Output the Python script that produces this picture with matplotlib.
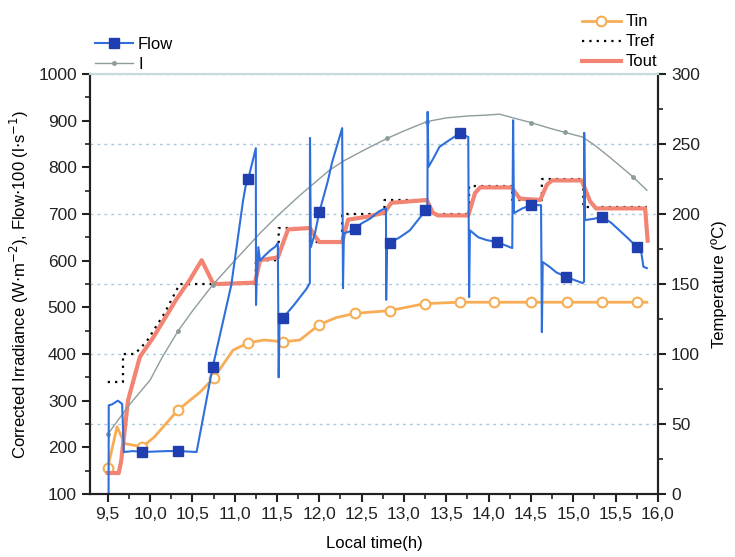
import numpy as np
import matplotlib
matplotlib.use('Agg')
import matplotlib.pyplot as plt
from matplotlib.ticker import MultipleLocator, FuncFormatter

plt.rcParams['font.family'] = ['Liberation Sans', 'DejaVu Sans']

# irradiance (W/m2)
irr_t = [9.5, 9.75, 10.0, 10.15, 10.33, 10.5, 10.74, 11.0, 11.3, 11.5, 11.77,
         12.12, 12.3, 12.56, 12.8, 13.0, 13.27, 13.5, 13.75, 13.98, 14.13, 14.29,
         14.5, 14.72, 14.9, 15.11, 15.25, 15.43, 15.6, 15.71, 15.87]
irr_v = [228, 290, 344, 395, 449, 492, 548, 600, 659, 695, 740,
         794, 815, 840, 862, 878, 898, 906, 910, 912, 914, 906,
         896, 884, 875, 865, 848, 822, 796, 779, 751]

# flow x100 (l/s)
flow_t = [9.51, 9.512, 9.55, 9.62, 9.67, 9.69, 9.8, 9.91, 10.2, 10.33, 10.55,
          10.74, 10.96, 11.10, 11.13, 11.16, 11.25, 11.252, 11.26, 11.27, 11.28,
          11.3, 11.35, 11.42, 11.48, 11.51, 11.52, 11.53, 11.57, 11.7, 11.85,
          11.888, 11.89, 11.9, 11.95, 12.0, 12.1, 12.15, 12.27, 12.28, 12.29,
          12.35, 12.42, 12.5, 12.6, 12.7, 12.74, 12.788, 12.79, 12.8, 12.83,
          12.95, 13.07, 13.2, 13.25, 13.278, 13.28, 13.29, 13.35, 13.42, 13.55,
          13.66, 13.76, 13.77, 13.78, 13.88, 13.98, 14.10, 14.28, 14.29, 14.3,
          14.4, 14.5, 14.62, 14.63, 14.64, 14.72, 14.8, 14.92, 15.11, 15.128,
          15.13, 15.14, 15.25, 15.34, 15.45, 15.63, 15.75, 15.8, 15.83, 15.87]
flow_v = [100, 290, 292, 300, 293, 190, 192, 190, 192, 192, 190,
          372, 548, 730, 760, 775, 841, 505, 560, 586, 629,
          600, 610, 622, 630, 638, 350, 470, 477, 505, 540,
          552, 863, 629, 660, 704, 770, 810, 884, 541, 659,
          662, 668, 680, 690, 705, 709, 712, 516, 630, 638,
          650, 665, 695, 709, 712, 919, 801, 820, 844, 860,
          873, 865, 522, 665, 650, 644, 640, 627, 901, 702,
          712, 719, 719, 447, 597, 587, 575, 565, 552, 555,
          874, 687, 690, 694, 681, 651, 630, 623, 587, 584]

# temperatures (C)
tin_t = [9.5, 9.61, 9.70, 9.91, 10.05, 10.33, 10.59, 10.75, 10.98, 11.16, 11.35,
         11.57, 11.77, 12.0, 12.2, 12.42, 12.83, 13.25, 13.66, 14.07, 14.5,
         14.93, 15.34, 15.75, 15.87]
tin_v = [18.7, 48, 36, 33.7, 40.7, 60, 72.7, 82.7, 102.7, 108, 110,
         108.7, 110, 121, 126, 129, 131, 136, 137, 137, 137,
         137, 137, 137, 137]

tref_t = [9.5, 9.68, 9.68, 9.82, 9.96, 10.17, 10.35, 11.25, 11.25, 11.52, 11.52,
          11.89, 11.89, 12.27, 12.27, 12.77, 12.77, 13.28, 13.28, 13.77, 13.77,
          14.28, 14.28, 14.63, 14.63, 15.12, 15.12, 15.87]
tref_v = [80, 80, 100, 100, 109, 129, 150, 150, 167, 167, 190,
          190, 180, 180, 200, 200, 210, 210, 200, 200, 220,
          220, 210, 210, 225, 225, 205, 205]

tout_t = [9.5, 9.63, 9.66, 9.74, 9.88, 10.04, 10.31, 10.47, 10.61, 10.74, 10.8,
          11.24, 11.3, 11.51, 11.63, 11.89, 11.95, 12.0, 12.27, 12.34, 12.56,
          12.77, 12.85, 13.27, 13.34, 13.4, 13.76, 13.84, 13.9, 14.27, 14.37,
          14.61, 14.69, 14.75, 15.10, 15.2, 15.27, 15.85, 15.88]
tout_v = [15, 15, 24, 67, 98, 112, 139, 153, 167, 151, 150,
          151, 167, 169, 189, 190, 184, 180, 180, 196, 198,
          201, 208, 210, 201, 199, 199, 215, 219, 219, 211,
          210, 221, 224, 224, 209, 204, 204, 181]

mark_t = [9.5, 9.91, 10.33, 10.75, 11.16, 11.57, 12.0, 12.42, 12.83, 13.25,
          13.66, 14.07, 14.5, 14.93, 15.34, 15.75]


def mark_idx(t, ts):
    t = np.asarray(t)
    idx = []
    for m in ts:
        i = int(np.argmin(np.abs(t - m)))
        if abs(t[i] - m) < 0.06 and i not in idx:
            idx.append(i)
    return idx


comma = FuncFormatter(lambda x, p: '{:.1f}'.format(x).replace('.', ','))

fig = plt.figure(figsize=(7.35, 5.57), dpi=100)
ax1 = fig.add_axes([0.1224, 0.1131, 0.7726, 0.7540])
ax2 = ax1.twinx()
ax1.set_zorder(ax2.get_zorder() + 1)
ax1.patch.set_visible(False)
ax2.patch.set_visible(True)
ax2.patch.set_facecolor('white')

ax2.grid(axis='y', color='#a9c8dc', linestyle=(0, (2, 3)), linewidth=1)
ax2.plot(tin_t, tin_v, color='#f7ad55', lw=2, marker='o', ms=7, mfc='white',
         mec='#f7ad55', mew=1.5, markevery=mark_idx(tin_t, mark_t), label='Tin')
ax2.plot(tref_t, tref_v, color='black', lw=1.6, linestyle=(0, (1, 2.3)), label='Tref')
ax2.plot(tout_t, tout_v, color='#f28474', lw=3, label='Tout')

ax1.plot(irr_t, irr_v, color='#8d9d9b', lw=1, marker='o', ms=2.5,
         markevery=mark_idx(irr_t, mark_t), label='I', zorder=1)
ax1.plot(flow_t, flow_v, color='#2f6fdc', lw=1.5, marker='s', ms=7, mfc='#1f3fb0',
         mec='#1f3fb0', markevery=mark_idx(flow_t, mark_t[1:]), label='Flow', zorder=2)

ax1.set_xlim(9.29, 16.0)
ax1.set_ylim(100, 1000)
ax2.set_ylim(0, 300)

ax1.xaxis.set_major_locator(MultipleLocator(0.5))
ax1.xaxis.set_minor_locator(MultipleLocator(0.25))
ax1.xaxis.set_major_formatter(comma)
ax1.yaxis.set_major_locator(MultipleLocator(100))
ax1.yaxis.set_minor_locator(MultipleLocator(50))
ax2.yaxis.set_major_locator(MultipleLocator(50))
ax2.yaxis.set_minor_locator(MultipleLocator(25))

for a in (ax1, ax2):
    a.tick_params(which='major', direction='out', length=6, width=1.5,
                  labelsize=12.5, colors='#222222')
    a.tick_params(which='minor', direction='out', length=3.5, width=1.2, color='#222222')
    for s in a.spines.values():
        s.set_linewidth(1.5)
        s.set_color('#222222')
    a.spines['top'].set_color('#c5dadf')

ax1.set_xlabel('Local time(h)', fontsize=12, labelpad=10)
ax1.set_ylabel('Corrected Irradiance (W$\\cdot$m$^{-2}$), Flow$\\cdot$100 (l$\\cdot$s$^{-1}$)',
               fontsize=12, labelpad=5)
ax2.set_ylabel('Temperature (ºC)', fontsize=12, labelpad=8)

h1, l1 = ax1.get_legend_handles_labels()
fig.legend(h1[::-1], l1[::-1], loc='upper left', bbox_to_anchor=(0.113, 0.955),
           frameon=False, fontsize=12, handlelength=2.3, labelspacing=0.3,
           handletextpad=0.3, borderpad=0.2)
h2, l2 = ax2.get_legend_handles_labels()
fig.legend(h2, l2, loc='upper right', bbox_to_anchor=(0.91, 0.995),
           frameon=False, fontsize=12, handlelength=2.3, labelspacing=0.3,
           handletextpad=0.3, borderpad=0.2)

fig.savefig('out.png', dpi=100)
